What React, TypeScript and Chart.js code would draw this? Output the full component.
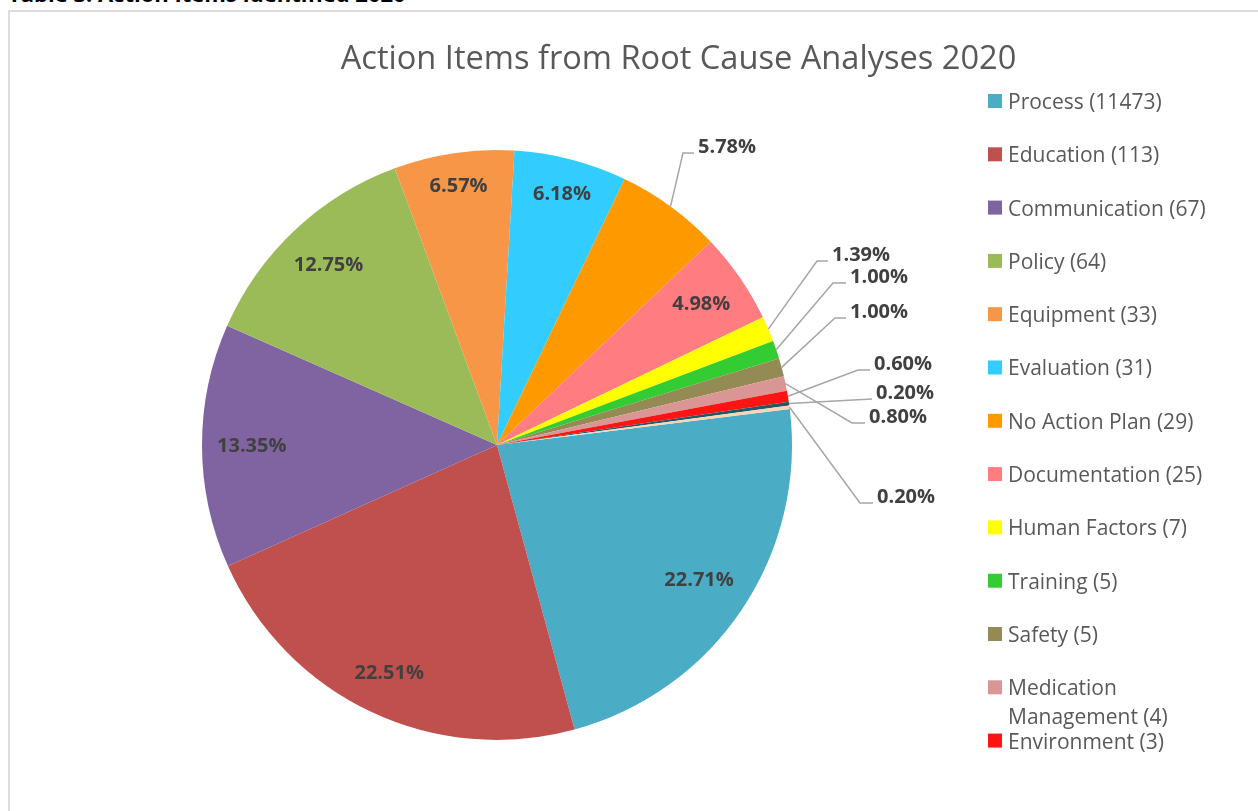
import React, { useEffect, useRef } from "react";
import { Chart, registerables } from "chart.js";

Chart.register(...registerables);

// ---------- data ----------
const heading = "Table 3: Action Items Identified 2020";
const chartTitle = "Action Items from Root Cause Analyses 2020";
const categories = [
  "Process (11473)",
  "Education (113)",
  "Communication (67)",
  "Policy (64)",
  "Equipment (33)",
  "Evaluation (31)",
  "No Action Plan (29)",
  "Documentation (25)",
  "Human Factors (7)",
  "Training (5)",
  "Safety (5)",
  "Medication Management (4)",
  "Environment (3)",
  "Other (1)",
  "Other (1)",
];
const counts = [114, 113, 67, 64, 33, 31, 29, 25, 7, 5, 5, 4, 3, 1, 1];
const sliceColors = [
  "#4BACC6",
  "#C0504D",
  "#8064A2",
  "#9BBB59",
  "#F79646",
  "#33CCFF",
  "#FF9900",
  "#FF7C80",
  "#FFFF00",
  "#33CC33",
  "#948A54",
  "#DA9694",
  "#FF1414",
  "#215967",
  "#FCD5B4",
];

// ---------- layout (callout elbows relative to pie centre, px at radius 295) ----------
const CALLOUTS: Record<number, { ex: number; ey: number; h: number }> = {
  6: { ex: 186, ey: -292, h: 11 },
  8: { ex: 320, ey: -184, h: 11 },
  9: { ex: 336, ey: -162, h: 13 },
  10: { ex: 338, ey: -127, h: 11 },
  11: { ex: 355, ey: -22, h: 13 },
  12: { ex: 361, ey: -75, h: 12 },
  13: { ex: 375, ey: -46, h: 0 },
  14: { ex: 363, ey: 58, h: 13 },
};

const FONT = '"Open Sans", "Noto Sans", sans-serif';

const labelsPlugin = {
  id: "pctLabels",
  afterDatasetsDraw(chart: any) {
    const ctx = chart.ctx;
    const meta = chart.getDatasetMeta(0);
    const total = counts.reduce((a, b) => a + b, 0);
    ctx.save();
    meta.data.forEach((arc: any, i: number) => {
      const p = arc.getProps(["x", "y", "startAngle", "endAngle", "outerRadius"], true);
      const mid = (p.startAngle + p.endAngle) / 2;
      const R = p.outerRadius;
      const txt = ((counts[i] / total) * 100).toFixed(2) + "%";
      ctx.font = `bold 20px ${FONT}`;
      ctx.fillStyle = "#404040";
      const c = CALLOUTS[i];
      if (c) {
        const s = R / 295;
        const sx = p.x + Math.cos(mid) * R;
        const sy = p.y + Math.sin(mid) * R;
        const ex = p.x + c.ex * s;
        const ey = p.y + c.ey * s;
        ctx.strokeStyle = "#A6A6A6";
        ctx.lineWidth = 1.5;
        ctx.beginPath();
        ctx.moveTo(sx, sy);
        ctx.lineTo(ex, ey);
        ctx.lineTo(ex + c.h, ey);
        ctx.stroke();
        ctx.textAlign = "left";
        ctx.textBaseline = "middle";
        ctx.fillText(txt, ex + c.h + 4, ey - 6);
      } else {
        const w = ctx.measureText(txt).width;
        const h = 28;
        const ext = Math.abs(Math.cos(mid)) * w / 2 + Math.abs(Math.sin(mid)) * h / 2;
        const d = R - 15 - ext;
        ctx.textAlign = "center";
        ctx.textBaseline = "middle";
        ctx.fillText(txt, p.x + Math.cos(mid) * d, p.y + Math.sin(mid) * d);
      }
    });
    ctx.restore();
  },
};

const titleLegendPlugin = {
  id: "titleLegend",
  afterDraw(chart: any) {
    const ctx = chart.ctx;
    ctx.save();
    // title
    ctx.font = `32.6px ${FONT}`;
    ctx.fillStyle = "#595959";
    ctx.textAlign = "center";
    ctx.textBaseline = "middle";
    ctx.fillText(chartTitle, 678.5, 60);
    // legend
    const x0 = 988;
    const y0 = 101;
    const step = 53.3;
    const maxW = 240;
    ctx.font = `21px ${FONT}`;
    ctx.textAlign = "left";
    categories.forEach((lab, i) => {
      const y = y0 + step * i;
      if (y > 765) return;
      ctx.fillStyle = sliceColors[i];
      ctx.fillRect(x0, y - 7, 14, 14);
      const words = lab.split(" ");
      const lines: string[] = [];
      let cur = "";
      words.forEach((w) => {
        const t = cur ? cur + " " + w : w;
        if (ctx.measureText(t).width > maxW && cur) {
          lines.push(cur);
          cur = w;
        } else cur = t;
      });
      lines.push(cur);
      ctx.fillStyle = "#595959";
      lines.forEach((ln, k) => ctx.fillText(ln, x0 + 20, y + 2 + k * 29));
    });
    ctx.restore();
  },
};

export default function App() {
  const ref = useRef<HTMLCanvasElement | null>(null);
  useEffect(() => {
    if (!ref.current) return;
    const chart = new Chart(ref.current, {
      type: "pie",
      data: {
        labels: categories,
        datasets: [
          {
            data: counts,
            backgroundColor: sliceColors,
            borderWidth: 0,
          },
        ],
      },
      options: {
        responsive: false,
        animation: false,
        rotation: 83,
        radius: 295,
        layout: { padding: { left: 0, right: 264, top: 79, bottom: 0 } },
        plugins: {
          legend: { display: false },
          tooltip: { enabled: false },
          title: { display: false },
        },
      } as any,
      plugins: [labelsPlugin, titleLegendPlugin],
    });
    return () => chart.destroy();
  }, []);

  return (
    <div
      style={{
        position: "fixed",
        left: 0,
        top: 0,
        width: 1258,
        height: 811,
        overflow: "hidden",
        background: "#fff",
      }}
    >
      <div
        style={{
          position: "absolute",
          left: 8,
          top: -18,
          font: `bold 22px/22px ${FONT}`,
          color: "#000",
          whiteSpace: "nowrap",
        }}
      >
        {heading}
      </div>
      <div
        style={{
          position: "absolute",
          left: 8,
          top: 10,
          width: 1400,
          height: 1000,
          border: "2px solid #DDDDDD",
          boxSizing: "border-box",
        }}
      />
      <canvas
        ref={ref}
        width={1258}
        height={811}
        style={{ position: "absolute", left: 0, top: 0, width: 1258, height: 811 }}
      />
    </div>
  );
}
